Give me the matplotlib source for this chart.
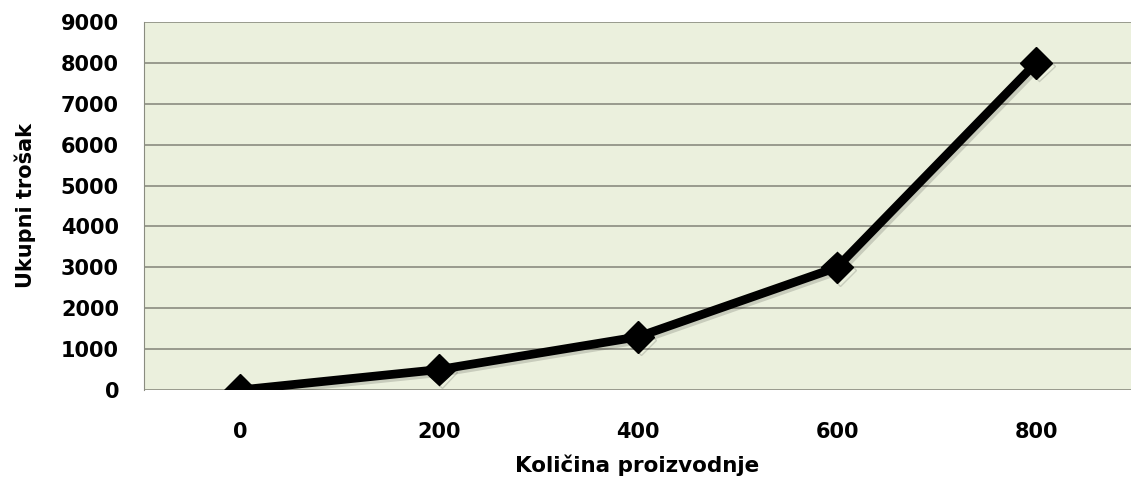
import matplotlib.pyplot as plt
import matplotlib.patheffects as pe

categories = ["0", "200", "400", "600", "800"]
costs = [0, 500, 1300, 3000, 8000]
y_ticks = [0, 1000, 2000, 3000, 4000, 5000, 6000, 7000, 8000, 9000]

plt.rcParams["font.family"] = ["DejaVu Sans"]
plt.rcParams["font.weight"] = "bold"

fig = plt.figure(figsize=(11.31, 4.95), dpi=100)
ax = fig.add_axes([144 / 1131, 105 / 495, 1 - 144 / 1131, 368 / 495])
ax.set_facecolor("#ebf0dd")

x = list(range(len(categories)))
ax.plot(
    x, costs, color="black", lw=6.3, marker="D", markersize=16,
    solid_joinstyle="miter", zorder=3,
    path_effects=[pe.SimpleLineShadow(offset=(2, -2), alpha=0.15), pe.Normal()],
)

ax.set_xlim(-0.482, 4.477)
ax.set_ylim(0, 9000)
ax.set_xticks(x)
ax.set_xticklabels(categories)
ax.set_yticks(y_ticks)
ax.grid(axis="y", color="#8a8c80", lw=1.2)
ax.set_axisbelow(True)
for side in ["top", "right", "bottom"]:
    ax.spines[side].set_visible(False)
ax.spines["left"].set_color("#8a8c80")
ax.tick_params(axis="both", length=0, labelsize=15)
ax.tick_params(axis="y", pad=18)
ax.tick_params(axis="x", pad=23)
ax.set_xlabel("Količina proizvodnje", fontsize=15.5, fontweight="bold", labelpad=9)
ax.set_ylabel("Ukupni trošak", fontsize=15, fontweight="bold", labelpad=18)

fig.savefig("out.png", dpi=100)
